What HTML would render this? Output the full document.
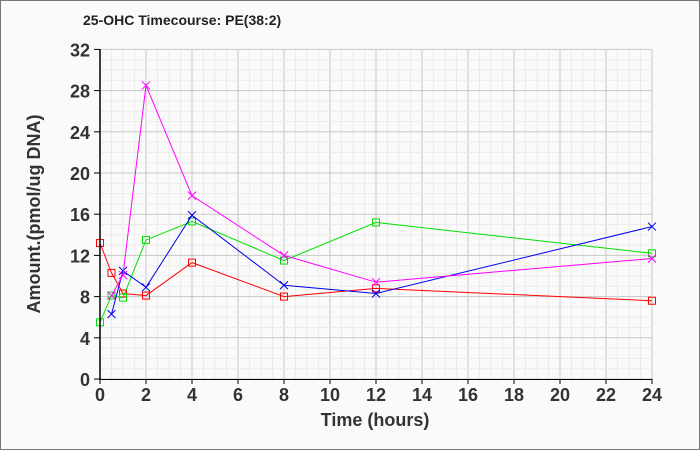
<!DOCTYPE html>
<html><head><style>body{margin:0;background:#fff}</style></head><body>
<svg width="700" height="450" xmlns="http://www.w3.org/2000/svg" font-family="Liberation Sans, Arial, sans-serif">
<rect x="0.5" y="0.5" width="699" height="449" fill="#fafafa" stroke="#777"/>
<text x="83" y="25" font-size="14" font-weight="bold" fill="#222">25-OHC Timecourse: PE(38:2)</text>
<g id="grid"></g>
<g id="series"></g>
<line x1="100" y1="49" x2="100" y2="380" stroke="#000" stroke-width="1.5"/>
<line x1="99" y1="379.5" x2="652" y2="379.5" stroke="#000" stroke-width="1"/>
<g id="labels" font-size="18" font-weight="bold" fill="#333"></g>
<text x="375" y="426" font-size="18" font-weight="bold" fill="#333" text-anchor="middle">Time (hours)</text>
<text transform="translate(40,214) rotate(-90)" font-size="18" font-weight="bold" fill="#333" text-anchor="middle">Amount.(pmol/ug DNA)</text>
</svg>
<script>
const ns="http://www.w3.org/2000/svg";
const X=t=>100+23*t, Y=v=>379-10.3*v;
function el(p,n,a){const e=document.createElementNS(ns,n);for(const k in a)e.setAttribute(k,a[k]);p.appendChild(e);return e;}
const g=document.getElementById('grid'),L=document.getElementById('labels');
for(let t=0;t<=24;t+=0.5){el(g,'line',{x1:X(t),x2:X(t),y1:Y(32),y2:379,stroke:t%2==0?'#c8c8c8':'#ebebeb','stroke-width':1});}
for(let v=0;v<=32;v++){el(g,'line',{x1:100,x2:X(24),y1:Y(v),y2:Y(v),stroke:v%4==0?'#c8c8c8':'#ebebeb','stroke-width':1});}
for(let v=0;v<=32;v+=4){el(g,'line',{x1:94,x2:100,y1:Y(v),y2:Y(v),stroke:'#000'});const t=el(L,'text',{x:90,y:Y(v)+7,'text-anchor':'end'});t.textContent=v;}
for(let t=0;t<=24;t+=2){el(g,'line',{x1:X(t),x2:X(t),y1:379,y2:384,stroke:'#000'});const e=el(L,'text',{x:X(t),y:401,'text-anchor':'middle'});e.textContent=t;}
const S=document.getElementById('series');
const data=[
['#ff0000','sq',[[0,13.2],[0.5,10.3],[1,8.3],[2,8.1],[4,11.3],[8,8.0],[12,8.8],[24,7.6]]],
['#00e000','sq',[[0,5.5],[0.5,8.1],[1,7.9],[2,13.5],[4,15.3],[8,11.5],[12,15.2],[24,12.2]]],
['#0000ee','x',[[0.5,6.3],[1,10.5],[2,8.9],[4,15.9],[8,9.1],[12,8.3],[24,14.8]]],
['#ff00ff','x',[[0.5,8.1],[1,10.1],[2,28.5],[4,17.8],[8,12.0],[12,9.4],[24,11.7]]]];
for(const [c,m,d] of data){
 el(S,'polyline',{points:d.map(p=>X(p[0])+','+Y(p[1])).join(' '),fill:'none',stroke:c,'stroke-width':1});
 for(const p of d){const x=X(p[0]),y=Y(p[1]);
  if(m=='sq')el(S,'rect',{x:x-3.5,y:y-3.5,width:7,height:7,fill:'none',stroke:c});
  else{el(S,'path',{d:`M${x-4} ${y-4}L${x+4} ${y+4}M${x-4} ${y+4}L${x+4} ${y-4}`,stroke:c});}}
}
</script>
</body></html>
